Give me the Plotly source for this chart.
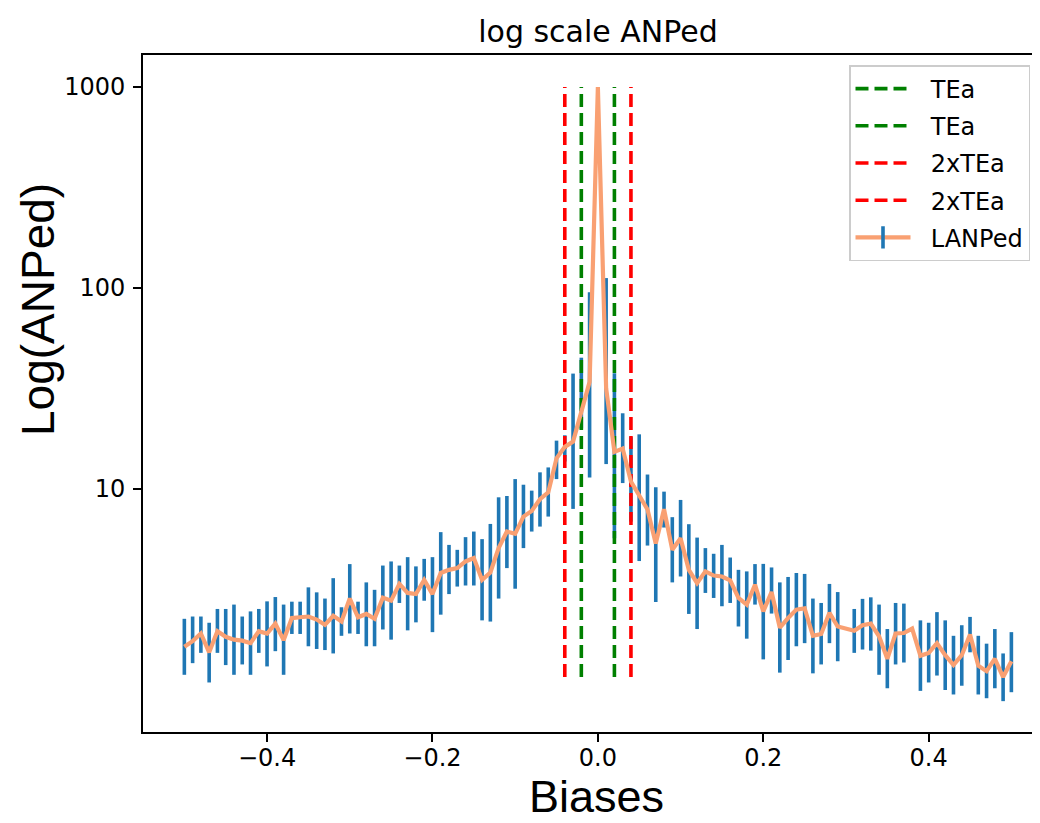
import plotly.graph_objects as go

# ---- data ----
biases = [-0.50, -0.49, -0.48, -0.47, -0.46, -0.45, -0.44, -0.43, -0.42, -0.41,
          -0.40, -0.39, -0.38, -0.37, -0.36, -0.35, -0.34, -0.33, -0.32, -0.31,
          -0.30, -0.29, -0.28, -0.27, -0.26, -0.25, -0.24, -0.23, -0.22, -0.21,
          -0.20, -0.19, -0.18, -0.17, -0.16, -0.15, -0.14, -0.13, -0.12, -0.11,
          -0.10, -0.09, -0.08, -0.07, -0.06, -0.05, -0.04, -0.03, -0.02, -0.01,
          0.00, 0.01, 0.02, 0.03, 0.04, 0.05, 0.06, 0.07, 0.08, 0.09,
          0.10, 0.11, 0.12, 0.13, 0.14, 0.15, 0.16, 0.17, 0.18, 0.19,
          0.20, 0.21, 0.22, 0.23, 0.24, 0.25, 0.26, 0.27, 0.28, 0.29,
          0.30, 0.31, 0.32, 0.33, 0.34, 0.35, 0.36, 0.37, 0.38, 0.39,
          0.40, 0.41, 0.42, 0.43, 0.44, 0.45, 0.46, 0.47, 0.48, 0.49, 0.50]

lanped_mean = [1.64, 1.75, 1.91, 1.54, 1.96, 1.84, 1.78, 1.76, 1.71, 1.96,
               1.91, 2.14, 1.77, 2.28, 2.30, 2.32, 2.24, 2.11, 2.34, 2.19,
               2.85, 2.30, 2.39, 2.26, 2.88, 2.78, 3.37, 3.04, 3.00, 3.53,
               3.00, 3.82, 3.96, 4.04, 4.36, 4.53, 3.53, 3.84, 5.08, 6.14,
               5.98, 7.29, 7.78, 8.89, 9.63, 14.2, 16.2, 17.2, 24.2, 34.1,
               1000.0, 31.7, 15.3, 15.9, 10.9, 9.28, 7.91, 5.35, 7.93, 4.98,
               5.69, 3.96, 3.40, 3.89, 3.71, 3.67, 3.51, 2.87, 2.66, 3.34,
               2.46, 3.07, 2.04, 2.28, 2.51, 2.55, 1.86, 1.90, 2.42, 2.07,
               2.02, 1.97, 2.10, 2.14, 1.85, 1.43, 1.91, 1.92, 2.02, 1.48,
               1.53, 1.71, 1.49, 1.33, 1.49, 1.89, 1.32, 1.24, 1.43, 1.16, 1.39]

lanped_upper = [2.26, 2.32, 2.32, 2.16, 2.53, 2.53, 2.66, 2.32, 2.46, 2.53,
                2.76, 2.90, 2.66, 2.75, 2.75, 3.24, 3.06, 2.85, 3.60, 2.58,
                4.23, 2.75, 3.43, 3.15, 4.16, 4.36, 4.16, 4.58, 4.12, 4.49,
                4.58, 6.10, 5.27, 4.98, 5.76, 6.14, 5.63, 6.70, 9.09, 9.23,
                11.2, 10.5, 9.81, 12.1, 12.8, 17.4, 18.5, 37.5, 45.0, 95.3,
                1000.0, 112.0, 37.6, 23.8, 18.1, 18.7, 11.8, 10.2, 9.70, 7.24,
                8.82, 6.68, 5.73, 5.08, 4.76, 5.27, 4.56, 3.96, 3.89, 4.23,
                4.24, 4.07, 3.43, 3.65, 3.82, 3.78, 2.85, 2.71, 3.37, 3.07,
                2.02, 2.53, 2.84, 2.89, 2.66, 2.01, 2.71, 2.69, 2.02, 2.22,
                2.16, 2.44, 2.22, 1.86, 2.10, 2.31, 1.86, 1.70, 2.01, 1.52, 1.94]

lanped_lower = [1.19, 1.36, 1.53, 1.09, 1.53, 1.33, 1.19, 1.34, 1.19, 1.53,
                1.31, 1.56, 1.19, 1.90, 1.90, 1.65, 1.60, 1.58, 1.52, 1.86,
                1.91, 1.90, 1.65, 1.65, 2.00, 1.78, 2.71, 1.98, 2.17, 2.78,
                1.94, 2.37, 3.00, 3.27, 3.31, 3.31, 2.22, 2.19, 2.85, 4.04,
                3.19, 5.08, 6.14, 6.50, 7.29, 11.2, 13.7, 7.96, 20.0, 11.4,
                1000.0, 13.3, 5.69, 10.7, 6.88, 4.38, 5.23, 2.74, 6.43, 3.43,
                3.67, 2.39, 2.01, 3.04, 2.87, 2.61, 2.71, 2.07, 1.80, 2.66,
                1.42, 2.40, 1.22, 1.41, 1.65, 1.71, 1.21, 1.34, 1.71, 1.39,
                2.02, 1.53, 1.59, 1.57, 1.19, 1.02, 1.34, 1.37, 2.02, 0.99,
                1.09, 1.18, 1.00, 0.95, 1.05, 1.54, 0.95, 0.91, 1.02, 0.88, 0.975]

tea_lines = [-0.02, 0.02]
tea2_lines = [-0.04, 0.04]
x_ticks = [-0.4, -0.2, 0.0, 0.2, 0.4]
y_ticks = [10, 100, 1000]
y_tick_labels = ["10", "100", "1000"]

# ---- styles ----
BLUE = "#1f77b4"
ORANGE = "#f9a072"
FONT = "DejaVu Sans"
LABEL_FONT = "Liberation Sans"
NB = "\u00a0\u00a0"

# page body has an 8px margin: figure drawn from (8, 8)
OFF = 8
W, H = 1040 - OFF, 823 - OFF
PL, PT, PB = 143, 55, 732          # plot area edges in page pixels
PW, PH = 1040 - PL, PB - PT

err_plus = [u - m for u, m in zip(lanped_upper, lanped_mean)]
err_minus = [m - l for m, l in zip(lanped_mean, lanped_lower)]
vmin, vmax = min(lanped_mean), max(lanped_mean)

fig = go.Figure()

# error bars
fig.add_trace(go.Scatter(
    x=biases, y=lanped_mean, mode="markers",
    marker=dict(size=0.1, color="rgba(0,0,0,0)"),
    error_y=dict(type="data", symmetric=False, array=err_plus, arrayminus=err_minus,
                 color=BLUE, thickness=3.6, width=0),
    showlegend=False, hoverinfo="skip"))

# vertical dashed lines
for v in tea_lines:
    fig.add_trace(go.Scatter(x=[v, v], y=[vmin, vmax], mode="lines", name=NB + "TEa",
                             legendgroup="g%s" % v,
                             line=dict(color="green", width=3.6, dash="13px,6px")))
for v in tea2_lines:
    fig.add_trace(go.Scatter(x=[v, v], y=[vmin, vmax], mode="lines", name=NB + "2xTEa",
                             legendgroup="r%s" % v,
                             line=dict(color="red", width=3.6, dash="13px,6px")))

# mean line
fig.add_trace(go.Scatter(x=biases, y=lanped_mean, mode="lines", name="LANPed",
                         line=dict(color=ORANGE, width=4.2), showlegend=False))
# legend entry for LANPed (line + error bar glyph)
fig.add_trace(go.Scatter(x=[None], y=[None], mode="lines+markers", name=NB + "LANPed",
                         legendgroup="lan",
                         line=dict(color=ORANGE, width=4.2),
                         marker=dict(symbol="line-ns", size=22,
                                     line=dict(color=BLUE, width=3.6))))

def px_x(p):
    return (p - PL) / PW

def px_y(p):
    return (PB - p) / PH

fig.update_layout(
    width=W, height=H,
    margin=dict(l=PL - OFF, r=0, t=PT - OFF, b=H - (PB - OFF)),
    paper_bgcolor="white", plot_bgcolor="white",
    font=dict(family=FONT, size=24, color="black"),
    title=dict(text="log scale ANPed", x=px_x(598), xanchor="center", xref="paper",
               y=1 - (31 - OFF) / H, yanchor="middle", yref="container",
               font=dict(family=FONT, size=30, color="black")),
    showlegend=True,
    legend=dict(x=px_x(849), xanchor="left", y=px_y(65), yanchor="top",
                bgcolor="rgba(255,255,255,0.8)", bordercolor="#cccccc", borderwidth=1.5,
                font=dict(family=FONT, size=24, color="black"),
                traceorder="grouped", tracegroupgap=3, itemwidth=55),
    xaxis=dict(range=[-0.55, 0.5346], tickvals=x_ticks, tickformat=".1f",
               showgrid=False, zeroline=False, showline=True, linecolor="black",
               linewidth=1.9, mirror=True, ticks="outside", ticklen=8,
               tickwidth=1.9, tickcolor="black", ticklabelstandoff=-5,
               tickfont=dict(family=FONT, size=24, color="black")),
    yaxis=dict(type="log", range=[-0.209, 3.159], tickvals=y_ticks, ticktext=y_tick_labels,
               showgrid=False, zeroline=False, showline=True, linecolor="black",
               linewidth=1.9, mirror=False, ticks="outside", ticklen=8,
               tickwidth=1.9, tickcolor="black", ticklabelstandoff=3,
               tickfont=dict(family=FONT, size=24, color="black")),
    annotations=[
        dict(text="Biases", xref="paper", yref="paper", x=px_x(596), y=px_y(796),
             xanchor="center", yanchor="middle", showarrow=False,
             font=dict(family=LABEL_FONT, size=45, color="black")),
        dict(text="Log(ANPed)", xref="paper", yref="paper", x=px_x(38),
             y=px_y(310), xanchor="center", yanchor="middle", textangle=-90,
             showarrow=False, font=dict(family=LABEL_FONT, size=46, color="black")),
    ],
)

fig.write_html("out.html")
